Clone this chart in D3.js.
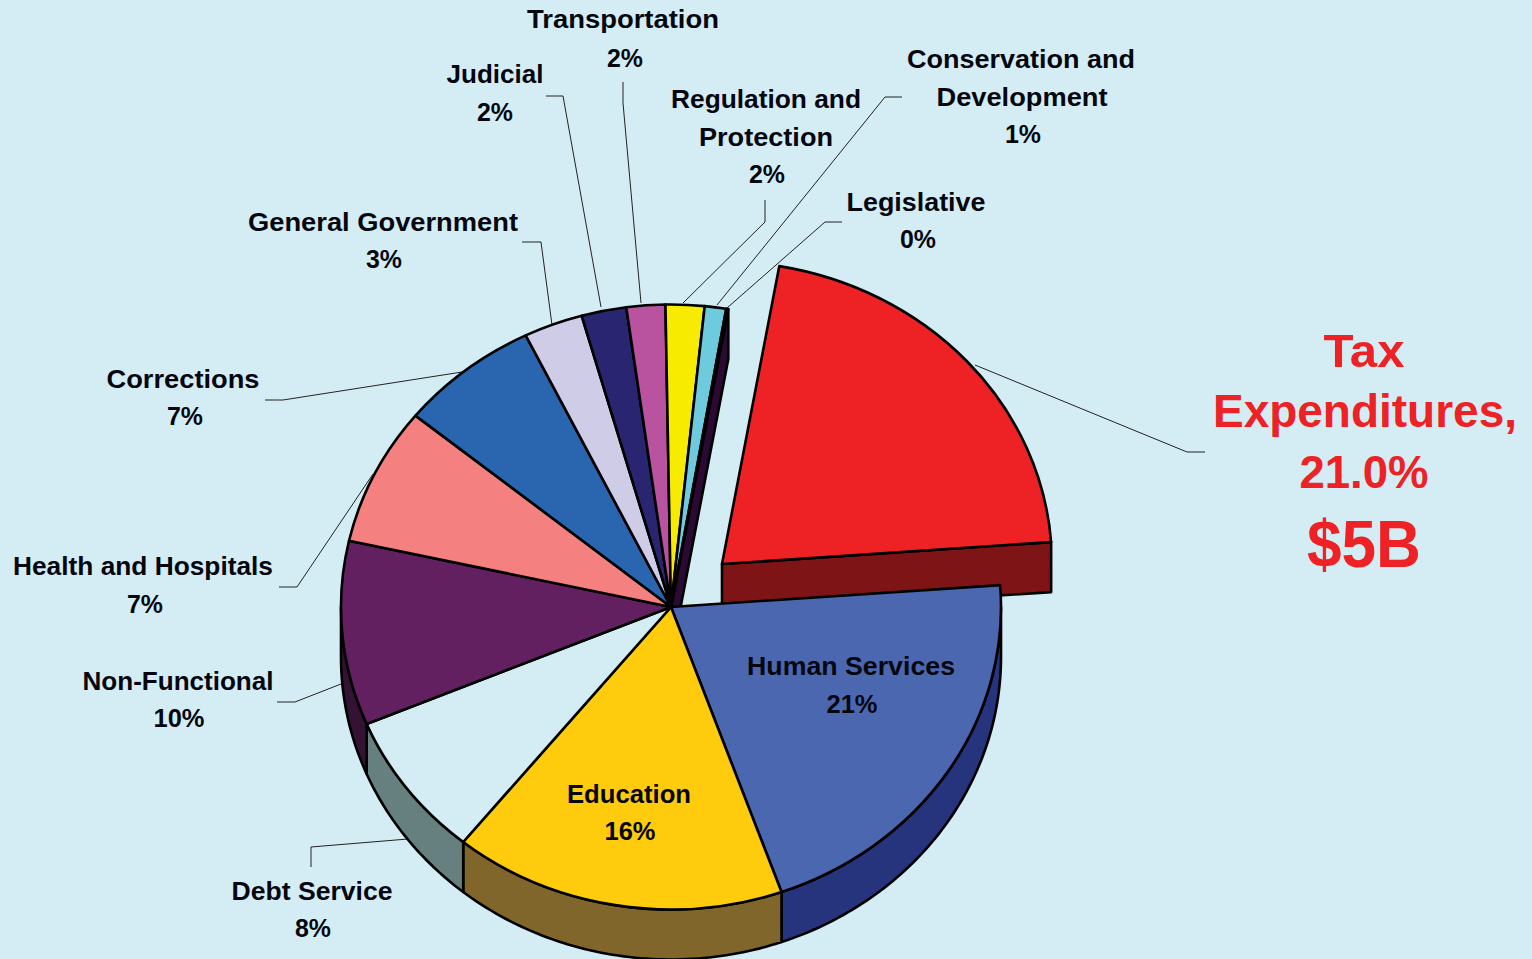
<!DOCTYPE html>
<html><head><meta charset="utf-8">
<script src="https://cdn.jsdelivr.net/npm/d3@7/dist/d3.min.js"></script>
<style>html,body{margin:0;padding:0;background:#d4edf4;overflow:hidden}svg{display:block}text{font-family:"Liberation Sans",Arial,sans-serif;font-weight:700}</style>
</head><body><svg id="c" width="1532" height="959"></svg>
<script>
const categories=["Tax Expenditures","Human Services","Education","Debt Service","Non-Functional","Health and Hospitals","Corrections","General Government","Judicial","Transportation","Regulation and Protection","Conservation and Development","Legislative"];
const values=[21.1,20.75,16.3,7.85,9.85,7.4,6.85,2.9,2.2,1.9,1.9,1.05,0.1];
const labelPercents=["21.0%","21%","16%","8%","10%","7%","7%","3%","2%","2%","2%","1%","0%"];
const topColors=["#ee2224","#4a67b0","#ffcb0d","#d4edf4","#632061","#f58080","#2a66b0","#ceccE6","#2a2570","#b9529f","#f7ec00","#6dcbdd","#3f0f4b"];
const wallColors=["#7f1416","#26347e","#80662a","#668080","#331234","#7a4040","#153358","#676673","#151238","#5c294f","#7b7600","#36656e","#2a0a32"];
// layout (not data): text, centre x, baseline y, drawn width
const labelLines=[null,
 [["Human Services",851,674.5,208],["21%",852,712.5,51]],
 [["Education",629,802.5,124],["16%",630,839.5,51]],
 [["Debt Service",312,899.5,161],["8%",313,936.5,36]],
 [["Non-Functional",178,689.5,191],["10%",179,726.5,51]],
 [["Health and Hospitals",143,574.5,260],["7%",145,612.5,36]],
 [["Corrections",183,387.5,153],["7%",185,424.5,36]],
 [["General Government",383,230.5,270],["3%",384,267.5,36]],
 [["Judicial",495,82.5,97],["2%",495,120.5,36]],
 [["Transportation",623,27.5,192],["2%",625,66.5,36]],
 [["Regulation and",766,107.5,190],["Protection",766,145.5,134],["2%",767,182.5,36]],
 [["Conservation and",1021,67.5,228],["Development",1022,105.5,171],["1%",1023,142.5,36]],
 [["Legislative",916,210.5,139],["0%",918,247.5,36]]];
const leaders=[
 [[975,365],[1187,452],[1205,452]],
 [[727,308],[825,222],[842,222]],
 [[717,305],[885,97],[902,97]],
 [[683,303],[765,222],[765,200]],
 [[641,303],[623,103],[623,82]],
 [[601,307],[563,96],[546,96]],
 [[552,325],[541,242],[522,242]],
 [[462,372],[283,400],[265,400]],
 [[373,474],[297,587],[279,587]],
 [[341,684],[295,702],[277,702]],
 [[408,839],[311,847],[311,867]]];
const cx=671,cy=607,rx=330,ry=302.5,depth=50,ex=51,ey=-43;
const toRad=d=>d*Math.PI/180;
const svg=d3.select("#c");
const pie=d3.pie().sort(null).startAngle(toRad(10)).endAngle(toRad(370));
const arcs=pie(values);
const off=i=>i===0?[ex,ey]:[0,0];
const pt=(a,i,dz=0)=>[cx+off(i)[0]+rx*Math.sin(a),cy+off(i)[1]-ry*Math.cos(a)+dz];
const ctr=(i,dz=0)=>[cx+off(i)[0],cy+off(i)[1]+dz];
const line=d3.line();
const sample=(a0,a1)=>{const n=Math.max(2,Math.ceil((a1-a0)/toRad(1)));return d3.range(n+1).map(k=>a0+(a1-a0)*k/n);};
const stroke=s=>s.attr("stroke","#000").attr("stroke-width",2.6).attr("stroke-linejoin","round");
// leader lines
svg.append("g").selectAll("path").data(leaders).join("path").attr("d",d=>line(d)).attr("fill","none").attr("stroke","#222").attr("stroke-width",1);
// cut walls
const leg=arcs[12], tax=arcs[0];
stroke(svg.append("path")).attr("d",line([ctr(12),pt(leg.endAngle,12),pt(leg.endAngle,12,depth),ctr(12,depth)])+"Z").attr("fill",wallColors[12]);
stroke(svg.append("path")).attr("d",line([ctr(0),pt(tax.endAngle,0),pt(tax.endAngle,0,depth),ctr(0,depth)])+"Z").attr("fill",wallColors[0]);
// outer walls (front half only)
arcs.forEach((d,i)=>{
  const a0=Math.max(d.startAngle,Math.PI/2),a1=Math.min(d.endAngle,3*Math.PI/2);
  if(a1<=a0)return;
  const s=sample(a0,a1);
  const p=s.map(a=>pt(a,i)).concat(s.slice().reverse().map(a=>pt(a,i,depth)));
  stroke(svg.append("path")).attr("d",line(p)+"Z").attr("fill",wallColors[i]);
});
// tops
const arcGen=d3.arc().innerRadius(0).outerRadius(rx);
svg.append("g").selectAll("path").data(arcs).join("path")
 .attr("transform",(d,i)=>`translate(${ctr(i)}) scale(1,${ry/rx})`)
 .attr("d",arcGen).attr("fill",(d,i)=>topColors[i])
 .attr("vector-effect","non-scaling-stroke").call(stroke);
// labels
labelLines.forEach((ls,i)=>{ if(!ls)return;
  ls.forEach(([t,x,y,w])=>svg.append("text").attr("x",x).attr("y",y).attr("text-anchor","middle").attr("font-size",26.5).attr("textLength",w).attr("lengthAdjust","spacingAndGlyphs").attr("fill","#06060f").text(t));
});
const taxLines=[["Tax",1364,367,47,81],["Expenditures,",1365,427,47,304],[labelPercents[0],1364,488,47,129],["$5B",1364,567,66,114]];
taxLines.forEach(([t,x,y,f,w])=>svg.append("text").attr("x",x).attr("y",y).attr("text-anchor","middle").attr("font-size",f).attr("textLength",w).attr("lengthAdjust","spacingAndGlyphs").attr("fill","#ee2224").text(t));
</script></body></html>
